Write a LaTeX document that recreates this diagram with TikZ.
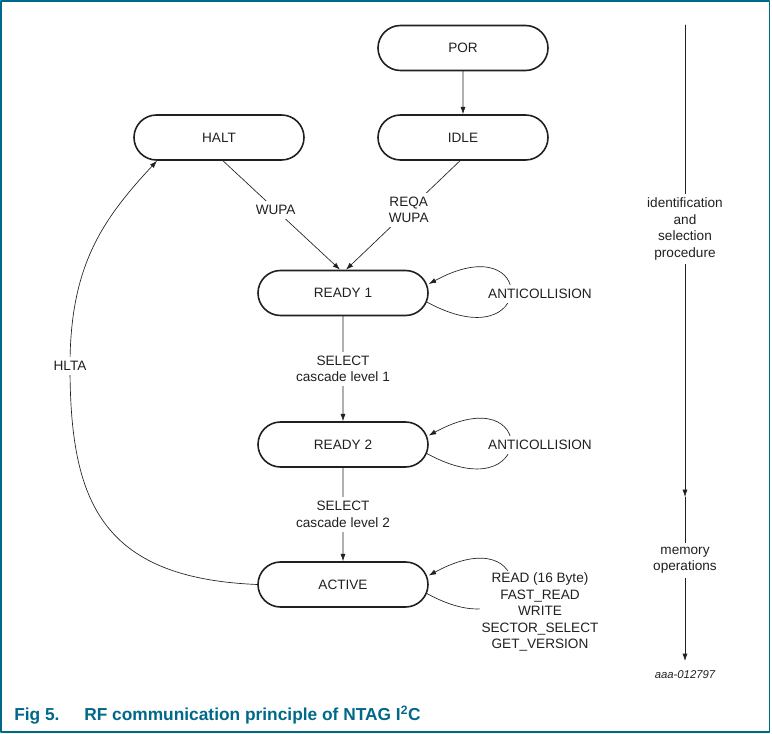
\documentclass[tikz,border=0pt]{standalone}
\usepackage{fontspec}
\setmainfont{Liberation Sans}
\usepackage{tikz}
\usetikzlibrary{arrows.meta,positioning,shapes.misc,calc}
\definecolor{nxpteal}{RGB}{0,104,136}
\definecolor{inkgray}{RGB}{35,31,32}

\begin{document}
\begin{tikzpicture}[line cap=round,line join=round,>={Latex[length=5.5pt,width=3.8pt]},x=0.75pt,y=-0.75pt,
  state/.style={rounded rectangle,draw=inkgray,line width=1.2pt,minimum width=127.5pt,minimum height=33.75pt,inner sep=0pt,text=inkgray},
  lbl/.style={fill=white,align=center,inner sep=3pt,text=inkgray},
  trans/.style={->,draw=inkgray,line width=0.5pt},
  every node/.append style={font=\fontsize{10.2pt}{12.4pt}\selectfont}]

\useasboundingbox (0,0) rectangle (772,734);
\draw [nxpteal,line width=1.1pt] (1.2,1.2) rectangle (769.5,731.8);

% states
\node[state] (por) at (463,48) {POR};
\node[state] (idle) at (463,137.5) {IDLE};
\node[state] (halt) at (219,137.5) {HALT};
\node[state] (rdya) at (343,293) {READY 1};
\node[state] (rdyb) at (343,444.5) {READY 2};
\node[state] (act) at (343,584.5) {ACTIVE};

% transitions
\draw[trans] (por) -- (idle);
\draw[trans] ($(halt.south)+(4,0)$) -- ($(rdya.north)+(-3,0)$) node[lbl,pos=0.45] {WUPA};
\draw[trans] ($(idle.south)+(-3,0)$) -- ($(rdya.north)+(3,0)$) node[lbl,pos=0.45] {REQA\\WUPA};
\draw[trans] (rdya) -- (rdyb) node[lbl,midway] {SELECT\\cascade level 1};
\draw[trans] (rdyb) -- (act) node[lbl,midway] {SELECT\\cascade level 2};

% self loops
\draw[trans] ($(rdya.east)+(-2,9)$) .. controls +(110,60) and +(110,-60) .. ($(rdya.east)+(0,-9)$);
\node[lbl] (acola) at (540,294) {ANTICOLLISION};
\draw[trans] ($(rdyb.east)+(-2,9)$) .. controls +(110,60) and +(110,-60) .. ($(rdyb.east)+(0,-9)$);
\node[lbl] (acolb) at (540,445) {ANTICOLLISION};
\draw[trans] ($(act.east)+(-2,9)$) .. controls +(110,60) and +(110,-60) .. ($(act.east)+(0,-9)$);
\node[lbl,inner sep=1pt] (memcmd) at (540,612) {READ (16 Byte)\\FAST\_READ\\WRITE\\SECTOR\_SELECT\\GET\_VERSION};

% HLTA back to HALT
\coordinate (hlpt) at (70,366);
\draw[trans] (act.west) .. controls (100,578) and (70,500) .. (hlpt)
  .. controls (70,266) and (102,220) .. ($(halt.south)+(-62,0)$);
\node[lbl] (hlta) at (hlpt) {HLTA};

% phases
\coordinate (phtop) at (685,25);
\coordinate (phmid) at (685,497);
\coordinate (phend) at (685,661);
\draw[trans] (phtop) -- (phmid) node[lbl,pos=0.432] {identification\\and\\selection\\procedure};
\draw[trans] (phmid) -- (phend) node[lbl,pos=0.387] {memory\\operations};
\node[font=\fontsize{8.5pt}{10pt}\selectfont\itshape,text=inkgray] (figid) at (685,675) {aaa-012797};

% caption
\node[anchor=base west,inner sep=0pt,text=nxpteal,font=\fontsize{13pt}{15pt}\selectfont\bfseries] (fignum) at (14,720) {Fig 5.};
\node[anchor=base west,inner sep=0pt,text=nxpteal,font=\fontsize{13pt}{15pt}\selectfont\bfseries] (figtitle) at (84,720) {RF communication principle of NTAG I\textsuperscript{2}C};
\end{tikzpicture}
\end{document}
